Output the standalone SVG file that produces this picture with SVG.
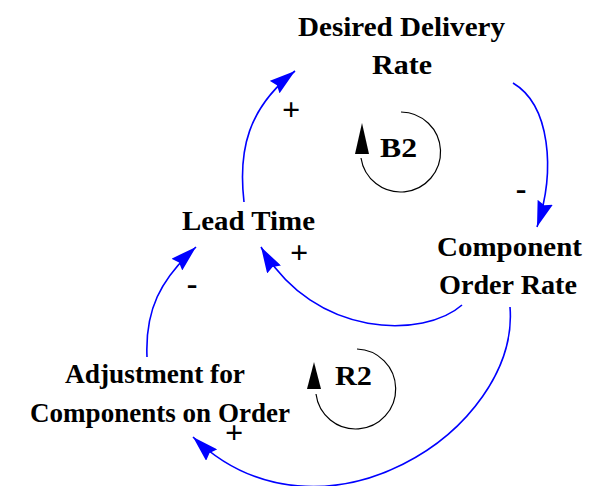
<svg xmlns="http://www.w3.org/2000/svg" width="593" height="486" viewBox="0 0 593 486">
  <style>
    .lbl { font-family: "Liberation Serif", "Times New Roman", serif; font-weight: bold; font-size: 28px; fill: #000; text-anchor: middle; }
    .link { fill: none; stroke: #0000ff; stroke-width: 1.6; marker-end: url(#arr); }
    .loop { fill: none; stroke: #000; stroke-width: 1.2; }
    .sign { font-family: "Liberation Serif", "Times New Roman", serif; font-weight: bold; font-size: 32px; fill: #000; text-anchor: middle; }
  </style>
  <defs>
    <marker id="arr" viewBox="0 0 26 16" refX="26" refY="8" markerWidth="26" markerHeight="16" markerUnits="userSpaceOnUse" orient="auto">
      <path d="M0,0 L26,8 L0,16 L3,8 z" fill="#0000ff"/>
    </marker>
  </defs>
  <rect width="593" height="486" fill="#fff"/>

  <!-- causal links -->
  <g id="connectors">
    <path class="link" d="M244,202 C238,150 248,108 295,71"/>
    <path class="link" d="M513,83 C550,105 556,170 537,227"/>
    <path class="link" d="M462,305 C425,338 315,340 261,247"/>
    <path class="link" d="M510,307 C520,430 320,560 193,437"/>
    <path class="link" d="M147,357 C145,310 160,280 196,247"/>
  </g>

  <!-- link polarities -->
  <g id="polarities">
    <text class="sign" x="291" y="120">+</text>
    <text class="sign" x="521" y="199">-</text>
    <text class="sign" x="299" y="263">+</text>
    <text class="sign" x="192" y="294">-</text>
    <text class="sign" x="234" y="443">+</text>
  </g>

  <g id="desired-delivery-rate">
    <text class="lbl" x="401.5" y="36" textLength="207" lengthAdjust="spacingAndGlyphs">Desired Delivery</text>
    <text class="lbl" x="402" y="74" textLength="60" lengthAdjust="spacingAndGlyphs">Rate</text>
  </g>
  <g id="lead-time">
    <text class="lbl" x="248.5" y="230" textLength="133" lengthAdjust="spacingAndGlyphs">Lead Time</text>
  </g>
  <g id="component-order-rate">
    <text class="lbl" x="509.5" y="256" textLength="145" lengthAdjust="spacingAndGlyphs">Component</text>
    <text class="lbl" x="508" y="294" textLength="138" lengthAdjust="spacingAndGlyphs">Order Rate</text>
  </g>
  <g id="adjustment-for-components">
    <text class="lbl" x="155" y="383" textLength="180" lengthAdjust="spacingAndGlyphs">Adjustment for</text>
    <text class="lbl" x="160" y="422" textLength="260" lengthAdjust="spacingAndGlyphs">Components on Order</text>
  </g>

  <!-- loop markers -->
  <g id="loop-b2">
    <path class="loop" d="M401,112 A40,40 0 1 1 361,158"/>
    <polygon points="362,123 355,154 369,154" fill="#000"/>
    <text class="lbl" x="398.5" y="157" textLength="37" lengthAdjust="spacingAndGlyphs">B2</text>
  </g>
  <g id="loop-r2">
    <path class="loop" d="M357,349 A40,40 0 1 1 316,394"/>
    <polygon points="314,362 307,389 321,389" fill="#000"/>
    <text class="lbl" x="353.5" y="385" textLength="37" lengthAdjust="spacingAndGlyphs">R2</text>
  </g>
</svg>
